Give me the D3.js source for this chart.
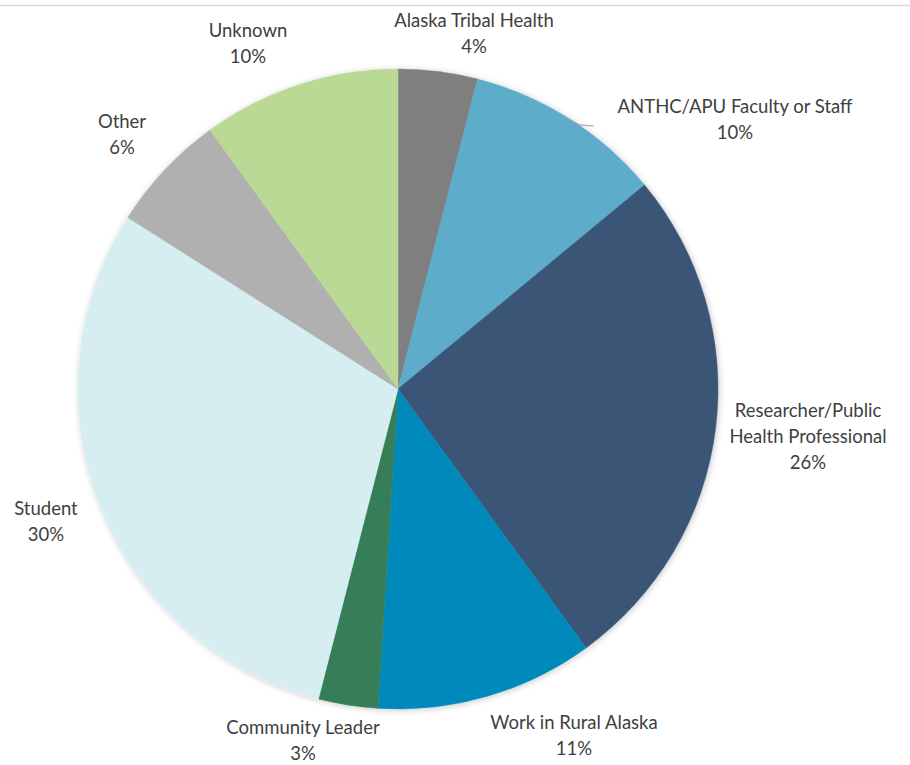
<!DOCTYPE html>
<html>
<head>
<meta charset="utf-8">
<script src="https://cdn.jsdelivr.net/npm/d3@7"></script>
<style>
  html, body { margin: 0; padding: 0; background: #fff; }
  svg { display: block; }
  text { font-family: Lato, "Open Sans", sans-serif; fill: #404040; }
</style>
</head>
<body>
<svg id="chart" width="910" height="765"></svg>
<script>
// Respondent groups, clockwise from 12 o'clock
const categories = [
  "Alaska Tribal Health",
  "ANTHC/APU Faculty or Staff",
  "Researcher/Public Health Professional",
  "Work in Rural Alaska",
  "Community Leader",
  "Student",
  "Other",
  "Unknown"
];
const values = [4, 10, 26, 11, 3, 30, 6, 10];
const colors = ["#7f7f7f", "#5cacca", "#3b5576", "#008abb", "#347e58", "#d6edf2", "#b0b0b0", "#b9d994"];

// Label text lines per slice (category may wrap)
const labelLines = [
  ["Alaska Tribal Health"],
  ["ANTHC/APU Faculty or Staff"],
  ["Researcher/Public", "Health Professional"],
  ["Work in Rural Alaska"],
  ["Community Leader"],
  ["Student"],
  ["Other"],
  ["Unknown"]
];
// Label centers (x, y of first line)
const labelPos = [
  [474, 20], [735, 106], [808, 410], [574, 722],
  [303, 727], [46, 508], [122, 121], [248, 30]
];

const W = 910, H = 765;
const cx = 398, cy = 389, radius = 320;
const lineH = 26;

const svg = d3.select("#chart");

// thin rule across the top
svg.append("line")
  .attr("x1", 0).attr("x2", W).attr("y1", 5.5).attr("y2", 5.5)
  .attr("stroke", "#d9d9d9").attr("stroke-width", 1.5);

const defs = svg.append("defs");
const f = defs.append("filter").attr("id", "shadow")
  .attr("x", "-10%").attr("y", "-10%").attr("width", "120%").attr("height", "120%");
f.append("feDropShadow").attr("dx", 1).attr("dy", 1).attr("stdDeviation", 3)
  .attr("flood-color", "#000").attr("flood-opacity", 0.22);

const data = categories.map((c, i) => ({ category: c, value: values[i], i }));

const pie = d3.pie().value(d => d.value).sort(null);
const arc = d3.arc().innerRadius(0).outerRadius(radius);
const arcs = pie(data);

const g = svg.append("g").attr("transform", `translate(${cx},${cy})`);
g.append("g").attr("filter", "url(#shadow)")
  .selectAll("path").data(arcs).join("path")
  .attr("d", arc)
  .attr("fill", d => colors[d.data.i])
  .attr("stroke", d => colors[d.data.i])
  .attr("stroke-width", 0.5);

// leader line for the ANTHC label
svg.append("polyline")
  .attr("points", "566,118 580,125 594,126")
  .attr("fill", "none").attr("stroke", "#a0a0a0").attr("stroke-width", 1);

// labels
const lab = svg.append("g").selectAll("text").data(arcs).join("text")
  .attr("text-anchor", "middle")
  .attr("font-size", 18.5)
  .attr("dominant-baseline", "central");

lab.each(function(d) {
  const i = d.data.i;
  const [x, y] = labelPos[i];
  const t = d3.select(this);
  const lines = labelLines[i].concat([d.data.value + "%"]);
  lines.forEach((ln, k) => {
    t.append("tspan").attr("x", x).attr("y", y + k * lineH).text(ln);
  });
});
</script>
</body>
</html>
